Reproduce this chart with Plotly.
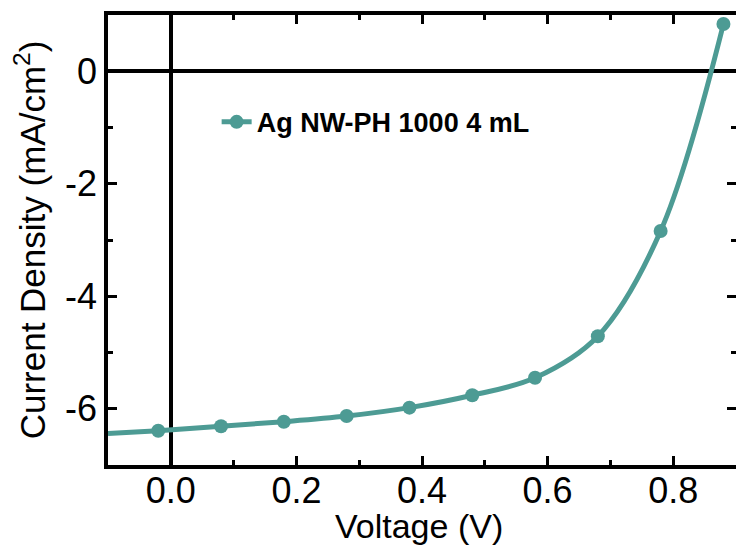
import plotly.graph_objects as go

# J-V data
voltage = [-0.02, 0.08, 0.18, 0.28, 0.38, 0.48, 0.58, 0.68, 0.78, 0.88]
current_density = [-6.39, -6.31, -6.23, -6.13, -5.98, -5.76, -5.45, -4.71, -2.84, 0.84]

# start of the fitted curve (left edge, no marker)
fit_start_v = [-0.1, -0.02]
fit_start_j = [-6.44, -6.39]

x_ticks = [0.0, 0.2, 0.4, 0.6, 0.8]
x_labels = ["0.0", "0.2", "0.4", "0.6", "0.8"]
y_ticks = [-6, -4, -2, 0]
y_labels = ["-6", "-4", "-2", "0"]

teal = "#4d9b94"
font = "Liberation Sans, Arial, sans-serif"

fig = go.Figure()

fig.add_trace(
    go.Scatter(
        x=fit_start_v,
        y=fit_start_j,
        mode="lines",
        line=dict(color=teal, width=5),
        showlegend=False,
        hoverinfo="skip",
    )
)

fig.add_trace(
    go.Scatter(
        x=voltage,
        y=current_density,
        mode="lines+markers",
        name="<b>Ag NW-PH 1000 4 mL</b>",
        line=dict(color=teal, width=5, shape="spline"),
        marker=dict(color=teal, size=14),
        cliponaxis=False,
    )
)

fig.update_layout(
    width=736,
    height=549,
    margin=dict(l=108, r=0, t=15, b=84),
    paper_bgcolor="white",
    plot_bgcolor="white",
    font=dict(family=font, color="black"),
    showlegend=True,
    legend=dict(
        x=0.173,
        y=0.816,
        xanchor="left",
        yanchor="top",
        bgcolor="rgba(0,0,0,0)",
        font=dict(size=27, family=font),
    ),
    xaxis=dict(
        range=[-0.1, 0.9],
        automargin=False,
        tickvals=x_ticks,
        ticktext=x_labels,
        ticks="inside",
        ticklen=9,
        tickwidth=3,
        tickcolor="black",
        ticklabelstandoff=-9,
        showline=True,
        linewidth=3.5,
        linecolor="black",
        mirror="ticks",
        showgrid=False,
        zeroline=True,
        zerolinecolor="black",
        zerolinewidth=3.5,
        tickfont=dict(size=36),
        minor=dict(ticks="inside", ticklen=5, tickwidth=3, tickcolor="black", dtick=0.1, tick0=0),
    ),
    yaxis=dict(
        range=[-7, 1],
        automargin=False,
        tickvals=y_ticks,
        ticktext=y_labels,
        ticks="inside",
        ticklen=9,
        tickwidth=3,
        tickcolor="black",
        showline=True,
        linewidth=3.5,
        linecolor="black",
        mirror="ticks",
        showgrid=False,
        zeroline=True,
        zerolinecolor="black",
        zerolinewidth=3.5,
        tickfont=dict(size=36),
        title=dict(text="Current Density (mA/cm<sup>2</sup>)", font=dict(size=35), standoff=10),
        minor=dict(ticks="inside", ticklen=5, tickwidth=3, tickcolor="black", dtick=1, tick0=0),
    ),
)

# x title as an annotation so it can sit closer to the tick labels
fig.add_annotation(
    text="Voltage (V)",
    xref="paper",
    yref="paper",
    x=0.495,
    y=-0.136,
    xanchor="center",
    yanchor="middle",
    showarrow=False,
    font=dict(size=34),
)

# drop the browser's default body margin so the figure sits at the window corner
fig.write_html(
    "out.html",
    config={"displayModeBar": False},
    post_script="document.body.style.margin = '0';",
)
